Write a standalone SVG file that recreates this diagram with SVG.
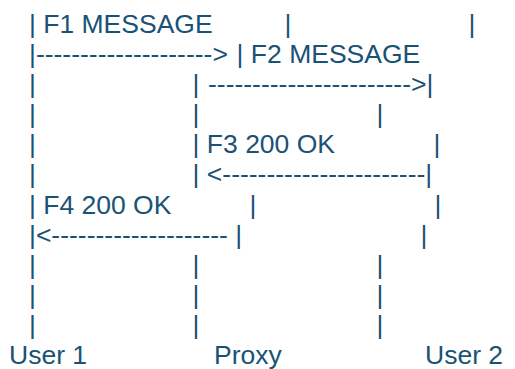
<svg xmlns="http://www.w3.org/2000/svg" width="515" height="369" viewBox="0 0 515 369">
<style>
text{font-family:"Liberation Sans",Arial,sans-serif;font-size:26.5px;fill:#1a5276;white-space:pre}
</style>
<rect width="515" height="369" fill="#ffffff"/>
<g id="user1">
<text x="29" y="93">|</text>
<text x="29" y="123">|</text>
<text x="29" y="153">|</text>
<text x="29" y="183">|</text>
<text x="29" y="274">|</text>
<text x="29" y="304">|</text>
<text x="29" y="334">|</text>
<text x="9" y="364">User 1</text>
</g>
<g id="proxy">
<text x="192.6" y="93">|</text>
<text x="192.6" y="123">|</text>
<text x="249.6" y="214">|</text>
<text x="192.6" y="274">|</text>
<text x="192.6" y="304">|</text>
<text x="192.6" y="334">|</text>
<text x="214" y="364">Proxy</text>
</g>
<g id="user2">
<text x="468.6" y="33">|</text>
<text x="376.6" y="123">|</text>
<text x="433.6" y="153">|</text>
<text x="434.6" y="214">|</text>
<text x="420.6" y="244">|</text>
<text x="376.6" y="274">|</text>
<text x="376.6" y="304">|</text>
<text x="376.6" y="334">|</text>
<text x="425" y="364">User 2</text>
</g>
<g id="connectors">
<text x="29" y="33">| F1 MESSAGE</text>
<text x="284.6" y="33">|</text>
<text x="29" y="63">|--------------------&gt;</text>
<text x="236.6" y="63">| F2 MESSAGE</text>
<text x="208" y="93">-----------------------&gt;|</text>
<text x="192.6" y="153">| F3 200 OK</text>
<text x="192.6" y="183">| &lt;-----------------------|</text>
<text x="29" y="214">| F4 200 OK</text>
<text x="29" y="244">|&lt;-------------------- |</text>
</g>
</svg>
